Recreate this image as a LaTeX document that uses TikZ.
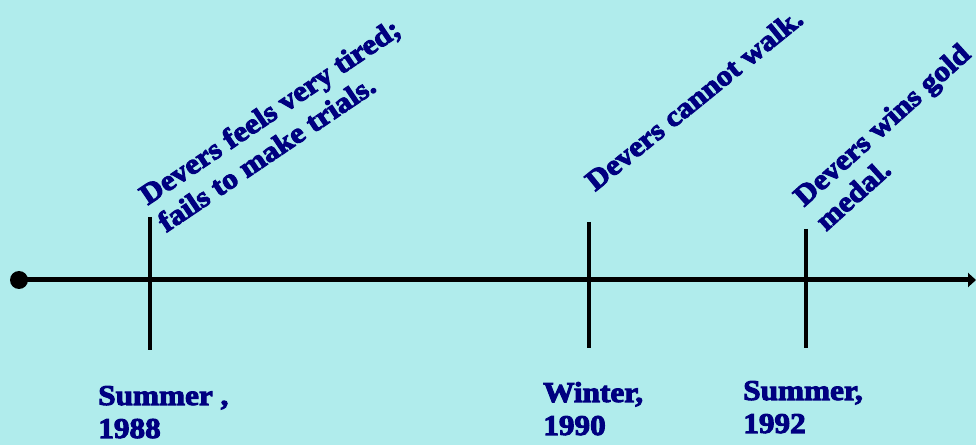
\documentclass[tikz,border=0pt]{standalone}
\usepackage{fontspec}
\newfontfamily\fatface[FakeStretch=1.09,FakeBold=3.5]{Liberation Serif Bold}
\usetikzlibrary{arrows.meta}
\definecolor{bgcyan}{RGB}{176,236,236}
\definecolor{navytext}{RGB}{0,0,128}

\tikzset{
  event/.style={font=\fatface\fontsize{21.5}{24.75}\selectfont, text=navytext,
    align=left, anchor=base west, inner sep=0pt},
  datelabel/.style={event},
  tick/.style={line width=3pt},
  axis/.style={line width=3.75pt, -{Triangle[length=6pt,width=10.5pt]}}
}

\begin{document}
\begin{tikzpicture}[x=0.75pt, y=-0.75pt]
  % background, also the bounding box
  \path[use as bounding box, fill=bgcyan] (0,0) rectangle (976,445);
  % time axis
  \coordinate (start) at (19,280);
  \coordinate (stop) at (976,280);
  \draw[axis] (start) -- (stop);
  \fill (start) circle (9);
  % ticks
  \coordinate (t88top) at (150,217); \coordinate (t88bot) at (150,350);
  \coordinate (t90top) at (589,222); \coordinate (t90bot) at (589,348);
  \coordinate (t92top) at (806,229); \coordinate (t92bot) at (806,348);
  \foreach \t in {t88,t90,t92} {
    \draw[tick] (\t top) -- (\t bot);
  }
  % events (anchor = start of the last line)
  \node[event, rotate=34] (ev88) at (166,233) {Devers feels very tired;\\fails to make trials.};
  \node[event, rotate=39] (ev90) at (595,192) {Devers cannot walk.};
  \node[event, rotate=42] (ev92) at (826,232) {Devers wins gold\\medal.};
  % dates
  \node[datelabel] (d88) at (98,438) {Summer ,\\1988};
  \node[datelabel] (d90) at (543,435) {Winter,\\1990};
  \node[datelabel] (d92) at (743,433) {Summer,\\1992};
\end{tikzpicture}
\end{document}
